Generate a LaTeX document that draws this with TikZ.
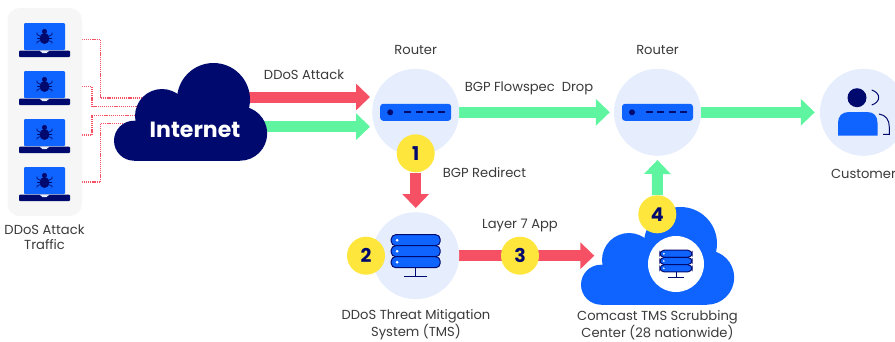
\documentclass[tikz,border=0pt]{standalone}
\usepackage{fontspec}
\setmainfont{Poppins}
\usetikzlibrary{arrows.meta}
\pgfdeclarelayer{bg}
\pgfsetlayers{bg,main}
\definecolor{navy}{HTML}{000A6E}
\definecolor{brightblue}{HTML}{0F64FF}
\definecolor{paleblue}{HTML}{E6EDFC}
\definecolor{panelgrey}{HTML}{F6F6F6}
\definecolor{attackred}{HTML}{F55064}
\definecolor{cleangreen}{HTML}{5FF5A0}
\definecolor{badgeyellow}{HTML}{FFE63C}
\definecolor{textgrey}{HTML}{3A3A3A}
\tikzset{
    lbl/.style={inner sep=0mm, align=center, text=textgrey, font=\fontsize{13.1}{15.5}\selectfont},
    hub/.style={circle, inner sep=0mm, fill=paleblue, minimum size=87pt},
    badge/.style={circle, inner sep=0mm, fill=badgeyellow, text=navy, minimum size=38pt, font=\fontsize{19}{20}\selectfont\bfseries},
    redarrow/.style={line width=11pt, attackred, -{Triangle[length=14pt,width=26pt]}},
    greenarrow/.style={line width=11pt, cleangreen, -{Triangle[length=14pt,width=26pt]}},
    trace/.style={attackred, line width=1.3pt, dash pattern=on 1.2pt off .9pt},
    laptop/.style={inner sep=0mm, minimum width=41pt, minimum height=34pt},
    cloudpic/.pic={
        \fill (99.5,36.5) circle [radius=36.5];
        \fill (48,53) circle [radius=27];
        \fill (20,77.7) circle [radius=20];
        \fill (126,70.5) circle [radius=27.2];
        \fill (20,60) rectangle (126,97.7);
    },
    serverpic/.pic={
        \foreach \r in {-21,-10,1}
            \draw [fill=brightblue, draw=navy, line width=1pt, rounded corners=4.5pt] (-24.5,\r) rectangle (24.5,\r+11);
        \foreach \r in {-15.5,-4.5,6.5}
            \fill [white] (-18.5,\r) circle [radius=1.5];
        \draw [navy, line width=1pt] (0,12) -- (0,21) (-11.5,21) -- (11.5,21);
    },
    routerpic/.pic={
        \fill [brightblue, rounded corners=3pt] (-35.5,-8.5) rectangle (35.5,8.5);
        \fill [navy] (-25.5,0) circle [radius=3];
        \draw [navy, line width=2pt, dash pattern=on 7pt off 4.3pt] (-11.5,0) -- (30,0);
    },
    bugpic/.pic={
        \fill [navy] (0,2) ellipse [x radius=5, y radius=5.5];
        \fill [navy] (0,-5) circle [radius=2.6];
        \draw [navy, line width=.7pt] (-7.5,-4) -- (-7.5,-2) -- (-4,0) (7.5,-4) -- (7.5,-2) -- (4,0)
            (-7.5,2) -- (7.5,2)
            (-7.5,7) -- (-7.5,5.5) -- (-4,4) (7.5,7) -- (7.5,5.5) -- (4,4);
    },
    laptoppic/.pic={
        \fill [brightblue, rounded corners=1pt] (-20.5,-17) rectangle (20.5,10);
        \fill [navy, rounded corners=1pt] (-25.5,10.5) rectangle (25.5,17);
        \fill [paleblue] (-5,10.5) -- (5,10.5) -- (2,13) -- (-2,13) -- cycle;
        \pic at (0,-3.5) {bugpic};
    },
}

\begin{document}
\begin{tikzpicture}[x=1pt, y=-1pt]
        \clip (0,0) rectangle (895,341);
        \fill [panelgrey, rounded corners=12pt] (7.5,8) rectangle (82,216);
        \node (laptop1) [laptop] at (44.5,40) {};
        \node (laptop2) [laptop] at (44.5,88) {};
        \node (laptop3) [laptop] at (44.5,136) {};
        \node (laptop4) [laptop] at (44.5,184) {};
        \foreach \n in {1,2,3,4}
            \pic at (laptop\n) {laptoppic};
        \node (trafficlbl) [lbl] at (44.5,237) {DDoS Attack\\Traffic};

        \pic [navy] at (114,63) {cloudpic};
        \node (internet) [inner sep=0mm, text=white, font=\fontsize{22}{24}\selectfont\bfseries] at (195,130) {Internet};
        \coordinate (redout) at (240,97);
        \coordinate (greenout) at (250,126.7);
        \coordinate (redin) at (370,97);
        \coordinate (greenin) at (370,126.7);

        \node (router1) [hub] at (415.7,112.3) {};
        \pic at (router1) {routerpic};
        \node (router2) [hub] at (657.5,112.3) {};
        \pic at (router2) {routerpic};
        \node (customer) [hub] at (863.5,112.3) {};
        \fill [navy] (857,97.7) circle [radius=9.5];
        \fill [brightblue] (838,135.7) -- (838,123) .. controls (838,116) and (842,112) .. (849,112) -- (867,112) .. controls (874,112) and (877.5,116) .. (877.5,123) -- (877.5,135.7) -- cycle;
        \draw [navy, line width=1pt] (871.7,90) .. controls (881,93) and (881,102) .. (871.7,105);
        \draw [navy, line width=1pt] (879,114) .. controls (886,115) and (889.3,120) .. (889.3,127) -- (889.3,134.3) -- (883,134.3);

        \node (tms) [hub] at (415.7,255.7) {};
        \pic at (tms) {serverpic};

        \pic [brightblue] at (581,207) {cloudpic};
        \node (scrubbing) [circle, inner sep=0mm, fill=white, minimum size=56pt] at (676,264) {};
        \pic [scale=.66] at (scrubbing) {serverpic};
        \coordinate (scrubin) at (594.3,255.7);

        \node (badge1) [badge] at (415.7,153.3) {1};
        \node (badge2) [badge] at (366,255.7) {2};
        \node (badge3) [badge] at (520,255.7) {3};
        \node (badge4) [badge] at (657.3,214.3) {4};

        \node (router1lbl) [lbl] at (415.7,50) {Router};
        \node (router2lbl) [lbl] at (657.5,50) {Router};
        \node (customerlbl) [lbl] at (863.5,174) {Customer};
        \node (attacklbl) [lbl] at (304,75) {DDoS Attack};
        \node (flowspeclbl) [lbl] at (529,88) {BGP Flowspec~~Drop};
        \node (redirectlbl) [lbl] at (484.5,173) {BGP Redirect};
        \node (layerlbl) [lbl] at (520,225) {Layer 7 App};
        \node (tmslbl) [lbl] at (416,325) {DDoS Threat Mitigation\\System (TMS)};
        \node (scrubbinglbl) [lbl] at (657.5,325) {Comcast TMS Scrubbing\\Center (28 nationwide)};

        \begin{pgfonlayer}{bg}
                \draw (redout) edge [redarrow] (redin);
                \draw (greenout) edge [greenarrow] (greenin);
                \draw (router1) edge [greenarrow, shorten >=4pt] (router2);
                \draw (router2) edge [greenarrow, shorten >=5pt] (customer);
                \draw (badge1) edge [redarrow, shorten >=4pt] (tms);
                \draw (tms) edge [redarrow] (scrubin);
                \draw (badge4) edge [greenarrow, shorten >=4pt] (router2);
                \foreach \n/\ya/\x/\yb in {1/39.5/100.5/98, 2/86.5/92/106.5, 3/135/92/115.5, 4/182/100.5/123.5}
                    \draw [trace] (65,\ya) -- (\x,\ya) -- (\x,\yb) -- (150,\yb);
        \end{pgfonlayer}
\end{tikzpicture}
\end{document}
